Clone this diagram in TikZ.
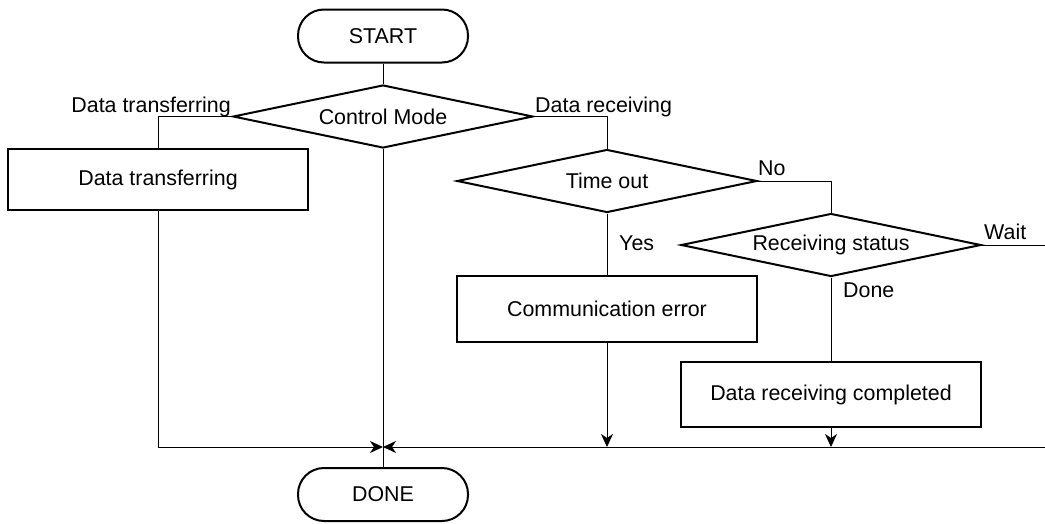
\documentclass[tikz,border=0pt]{standalone}
\usepackage{fontspec}
\setmainfont{Liberation Sans}
\usetikzlibrary{shapes.geometric,arrows.meta}
\begin{document}
\begin{tikzpicture}[x=1pt,y=-1pt,
  font=\fontsize{21.4}{25}\selectfont,
  term/.style={draw,line width=2pt,rectangle,rounded corners=26pt,minimum width=170pt,minimum height=53pt,inner sep=0pt},
  procbox/.style={draw,line width=2pt,rectangle,minimum width=300pt,inner sep=0pt},
  decision/.style={draw,line width=2pt,diamond,aspect=4.7,minimum width=300pt,minimum height=63pt,inner sep=0pt},
  conn/.style={line width=1pt},
  arr/.style={line width=1pt,-{Stealth[length=13pt,width=12pt,inset=4pt]}},
  lbl/.style={inner sep=0pt}]
\useasboundingbox (0,0) rectangle (1045,523);
\node[term] (start) at (383,36) {START};
\node[decision] (cm) at (383,116.5) {Control Mode};
\node[procbox,minimum height=61pt] (dt) at (158,179.5) {Data transferring};
\node[decision] (to) at (607,181) {Time out};
\node[decision] (rs) at (831,245) {Receiving status};
\node[procbox,minimum height=66pt] (ce) at (607,309) {Communication error};
\node[procbox,minimum height=65pt] (rc) at (831,394.5) {Data receiving completed};
\node[term] (done) at (383,494.5) {DONE};

\coordinate (m) at (383,447);
\coordinate (j1) at (607,447);
\coordinate (j2) at (831,447);
\coordinate (rr) at (1045,447);
\coordinate (we) at (1045,245);

\node[lbl,anchor=base east] (l1) at (231,112) {Data transferring};
\node[lbl,anchor=base west] (l2) at (535,112) {Data receiving};
\node[lbl,anchor=base west] (l3) at (758,175) {No};
\node[lbl,anchor=base west] (l4) at (619,250) {Yes};
\node[lbl,anchor=base west] (l5) at (984,239) {Wait};
\node[lbl,anchor=base west] (l6) at (843,297) {Done};

\draw[conn] (start.south) -- (cm.north);
\draw[conn] (cm.west) -| (dt.north);
\draw[conn] (cm.east) -| (to.north);
\draw[conn] (cm.south) -- (done.north);
\draw[arr] (dt.south) |- (m);
\draw[arr] (rr) -- (m);
\draw[conn] (to.south) -- (ce.north);
\draw[conn] (to.east) -| (rs.north);
\draw[conn] (rs.south) -- (rc.north);
\draw[conn] (rs.east) -- (we);
\draw[arr] (ce.south) -- (j1);
\draw[arr] (rc.south) -- (j2);
\end{tikzpicture}
\end{document}
